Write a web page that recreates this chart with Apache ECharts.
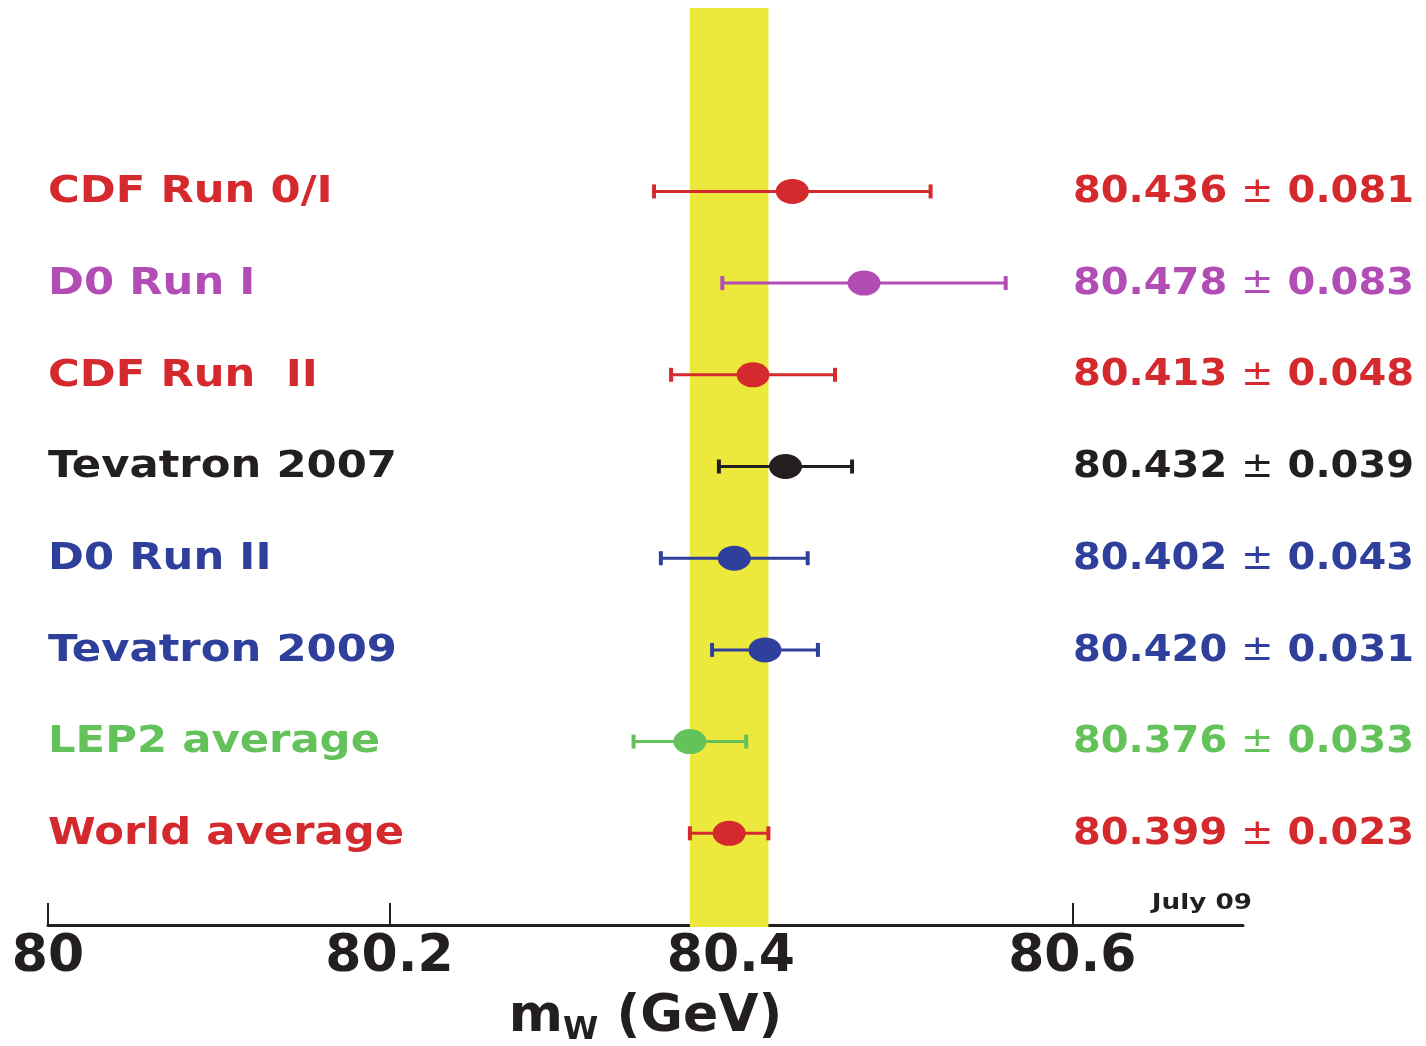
<!DOCTYPE html>
<html>
<head>
<meta charset="utf-8">
<script src="https://cdn.jsdelivr.net/npm/echarts@6/dist/echarts.min.js"></script>
<style>
  html, body { margin: 0; background: #fff; }
  #chart { width: 1426px; height: 1046px; }
</style>
</head>
<body>
<div id="chart"></div>
<script>
const names = ['CDF Run 0/I', 'D0 Run I', 'CDF Run  II', 'Tevatron 2007', 'D0 Run II', 'Tevatron 2009', 'LEP2 average', 'World average']
const masses = [80.436, 80.478, 80.413, 80.432, 80.402, 80.420, 80.376, 80.399]
const errors = [0.081, 0.083, 0.048, 0.039, 0.043, 0.031, 0.033, 0.023]
const rows = [2, 3, 4, 5, 6, 7, 8, 9]
const band = [80.376, 80.422]
const colors = ['#d42a2e', '#b24db5', '#d42a2e', '#231f20', '#2e3f9c', '#2e3f9c', '#64c25a', '#d42a2e']

const chart = echarts.init(document.getElementById('chart'))
const W = chart.getWidth()
const boldFont = 'bold 38px "DejaVu Sans"'

const option = {
  animation: false,
  grid: { left: 48, right: 183, top: 8, bottom: 121, outerBoundsMode: 'none' },
  xAxis: {
    type: 'value',
    position: 'bottom',
    min: 80,
    max: 80.7,
    interval: 0.2,
    splitLine: { show: false },
    axisLine: { onZero: false, lineStyle: { color: '#231f20', width: 3 } },
    axisTick: { inside: true, length: 22, lineStyle: { color: '#231f20', width: 2 } },
    axisLabel: {
      showMaxLabel: false,
      margin: 6,
      color: '#231f20',
      fontFamily: 'DejaVu Sans',
      fontWeight: 'bold',
      fontSize: 52
    },
    name: '{m|m}{s|W}{m| (GeV)}',
    nameLocation: 'middle',
    nameGap: 62,
    nameTextStyle: {
      rich: {
        m: { fontFamily: 'DejaVu Sans', fontWeight: 'bold', fontSize: 52, color: '#231f20' },
        s: { fontFamily: 'DejaVu Sans', fontWeight: 'bold', fontSize: 32, color: '#231f20', padding: [28, 0, 0, 0] }
      }
    }
  },
  yAxis: { type: 'value', min: 0, max: 10, inverse: true, show: false },
  graphic: [{
    type: 'text',
    x: 1252,
    y: 904,
    scaleX: 1.25,
    style: { text: 'July 09', font: 'bold 21px "DejaVu Sans"', fill: '#231f20', align: 'right', verticalAlign: 'middle' }
  }],
  series: [
    {
      // world average band
      type: 'custom',
      z: 1,
      data: [[band[0], band[1]]],
      renderItem: (params, api) => {
        const a = api.coord([api.value(0), 0])
        const b = api.coord([api.value(1), 10])
        return { type: 'rect', shape: { x: a[0], y: a[1], width: b[0] - a[0], height: b[1] - a[1] + 2 }, style: { fill: '#ede93c' } }
      }
    },
    {
      // error bars
      type: 'custom',
      z: 3,
      data: masses.map((m, i) => [m - errors[i], m + errors[i], rows[i], i]),
      renderItem: (params, api) => {
        const lo = api.coord([api.value(0), api.value(2)])
        const hi = api.coord([api.value(1), api.value(2)])
        const c = colors[api.value(3)]
        const cap = 7
        return {
          type: 'group',
          children: [
            { type: 'line', shape: { x1: lo[0], y1: lo[1], x2: hi[0], y2: hi[1] }, style: { stroke: c, lineWidth: 3 } },
            { type: 'line', shape: { x1: lo[0], y1: lo[1] - cap, x2: lo[0], y2: lo[1] + cap }, style: { stroke: c, lineWidth: 4 } },
            { type: 'line', shape: { x1: hi[0], y1: hi[1] - cap, x2: hi[0], y2: hi[1] + cap }, style: { stroke: c, lineWidth: 4 } }
          ]
        }
      }
    },
    {
      type: 'scatter',
      z: 4,
      symbol: 'circle',
      symbolSize: [33, 25],
      data: masses.map((m, i) => ({ value: [m, rows[i]], itemStyle: { color: colors[i], opacity: 1 } }))
    },
    {
      // row labels and values
      type: 'custom',
      z: 5,
      clip: false,
      data: rows.map((r, i) => [80, r, i]),
      renderItem: (params, api) => {
        const i = api.value(2)
        const p = api.coord([api.value(0), api.value(1)])
        const c = colors[i]
        return {
          type: 'group',
          children: [
            {
              type: 'text', x: p[0], y: p[1] + 1, scaleX: 1.14,
              style: { text: names[i], font: boldFont, fill: c, align: 'left', verticalAlign: 'middle' }
            },
            {
              type: 'text', x: W - 12, y: p[1] + 1, scaleX: 1.08,
              style: {
                text: '{a|' + masses[i].toFixed(3) + ' }{b|±}{a| ' + errors[i].toFixed(3) + '}',
                align: 'right', verticalAlign: 'middle',
                rich: {
                  a: { font: 'bold 37px "DejaVu Sans"', fill: c },
                  b: { font: '36px "DejaVu Sans"', fill: c }
                }
              }
            }
          ]
        }
      }
    }
  ]
}
chart.setOption(option)
</script>
</body>
</html>
